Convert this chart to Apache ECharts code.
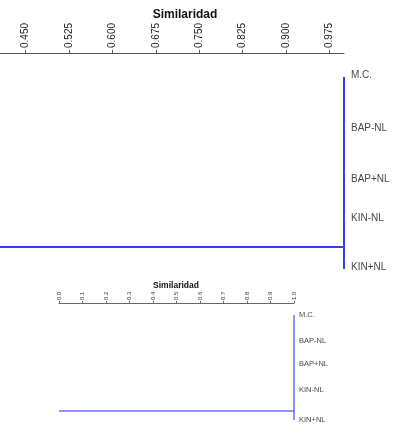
<!DOCTYPE html>
<html><head><meta charset="utf-8">
<script src="https://cdn.jsdelivr.net/npm/echarts@6/dist/echarts.min.js"></script>
<style>html,body{margin:0;padding:0;background:#fff}#c{width:396px;height:430px}</style>
</head><body><div id="c"></div>
<script>
// ---- data (top dendrogram) ----
const leavesTop = ['M.C.', 'BAP-NL', 'BAP+NL', 'KIN-NL', 'KIN+NL'];
const leafRowTop = [0, 1.1, 2.17, 2.98, 4.0];
const mergeSimTop = 1.0;
const rootRowTop = 3.54;
const rootStartTop = 0.406;
const ticksTop = [0.450, 0.525, 0.600, 0.675, 0.750, 0.825, 0.900, 0.975];
// ---- data (bottom dendrogram) ----
const leavesBot = ['M.C.', 'BAP-NL', 'BAP+NL', 'KIN-NL', 'KIN+NL'];
const leafRowBot = [0, 1.0, 1.88, 2.88, 4.04];
const mergeSimBot = 1.0;
const rootRowBot = 3.69;
const rootStartBot = 0.0;
const ticksBot = [0.0, 0.1, 0.2, 0.3, 0.4, 0.5, 0.6, 0.7, 0.8, 0.9, 1.0];
const axisTitle = 'Similaridad';

const FONT = 'Liberation Sans, Arial, sans-serif';
const chart = echarts.init(document.getElementById('c'), null, {renderer: 'canvas'});

function dendro(leaves, rows, merge, rootRow, rootStart, axisIdx, color, width, fontSize, dist, off) {
  const last = rows.length - 1;
  return [
    {type: 'line', xAxisIndex: axisIdx, yAxisIndex: axisIdx, symbol: 'none', silent: true,
     lineStyle: {color: color, width: width}, data: [[merge, rows[0]], [merge, rows[last]]]},
    {type: 'line', xAxisIndex: axisIdx, yAxisIndex: axisIdx, symbol: 'none', silent: true,
     lineStyle: {color: color, width: width}, data: [[rootStart, rootRow], [merge, rootRow]]},
    {type: 'scatter', xAxisIndex: axisIdx, yAxisIndex: axisIdx, symbolSize: 0, silent: true,
     data: leaves.map((n, i) => ({name: n, value: [merge, rows[i]]})),
     label: {show: true, position: 'right', distance: dist, offset: [0, off], formatter: '{b}',
             color: '#111', fontSize: fontSize, fontFamily: FONT}}
  ];
}

chart.setOption({
  animation: false,
  backgroundColor: '#fff',
  title: [
    {text: axisTitle, left: 180, top: 4, textAlign: 'center',
     textStyle: {fontSize: 12, fontWeight: 'bold', color: '#111', fontFamily: FONT}},
    {text: axisTitle, left: 171, top: 276, textAlign: 'center',
     textStyle: {fontSize: 8.5, fontWeight: 'bold', color: '#111', fontFamily: FONT}}
  ],
  grid: [
    {left: 0, top: 53, width: 344, height: 216, containLabel: false},
    {left: 59, top: 303, width: 235, height: 121.2, containLabel: false}
  ],
  xAxis: [
    {type: 'value', gridIndex: 0, position: 'top', min: rootStartTop, max: 1.0,
     axisLine: {show: true, onZero: false, lineStyle: {color: '#555', width: 1}},
     axisTick: {show: true, length: 3, inside: false, customValues: ticksTop, lineStyle: {color: '#555'}},
     axisLabel: {show: true, rotate: -90, margin: 5, customValues: ticksTop,
                 formatter: v => v.toFixed(3), color: '#222', fontSize: 10, fontFamily: FONT},
     splitLine: {show: false}},
    {type: 'value', gridIndex: 1, position: 'top', min: 0, max: 1.0, interval: 0.1,
     axisLine: {show: true, onZero: false, lineStyle: {color: '#666', width: 1}},
     axisTick: {show: true, length: 2, inside: false, lineStyle: {color: '#666'}},
     axisLabel: {show: true, rotate: -90, margin: 3, showMinLabel: true, showMaxLabel: true,
                 formatter: v => v.toFixed(1), color: '#333', fontSize: 6, fontFamily: FONT},
     splitLine: {show: false}}
  ],
  yAxis: [
    {type: 'value', gridIndex: 0, inverse: true, min: -0.5, max: 4.0, show: false},
    {type: 'value', gridIndex: 1, inverse: true, min: -0.46, max: 4.2, show: false}
  ],
  series: [].concat(
    dendro(leavesTop, leafRowTop, mergeSimTop, rootRowTop, rootStartTop, 0, '#3c3cf8', 2, 10, 7, -2),
    dendro(leavesBot, leafRowBot, mergeSimBot, rootRowBot, rootStartBot, 1, '#6b6bff', 1.5, 7.5, 5, 0)
  )
});
</script></body></html>
